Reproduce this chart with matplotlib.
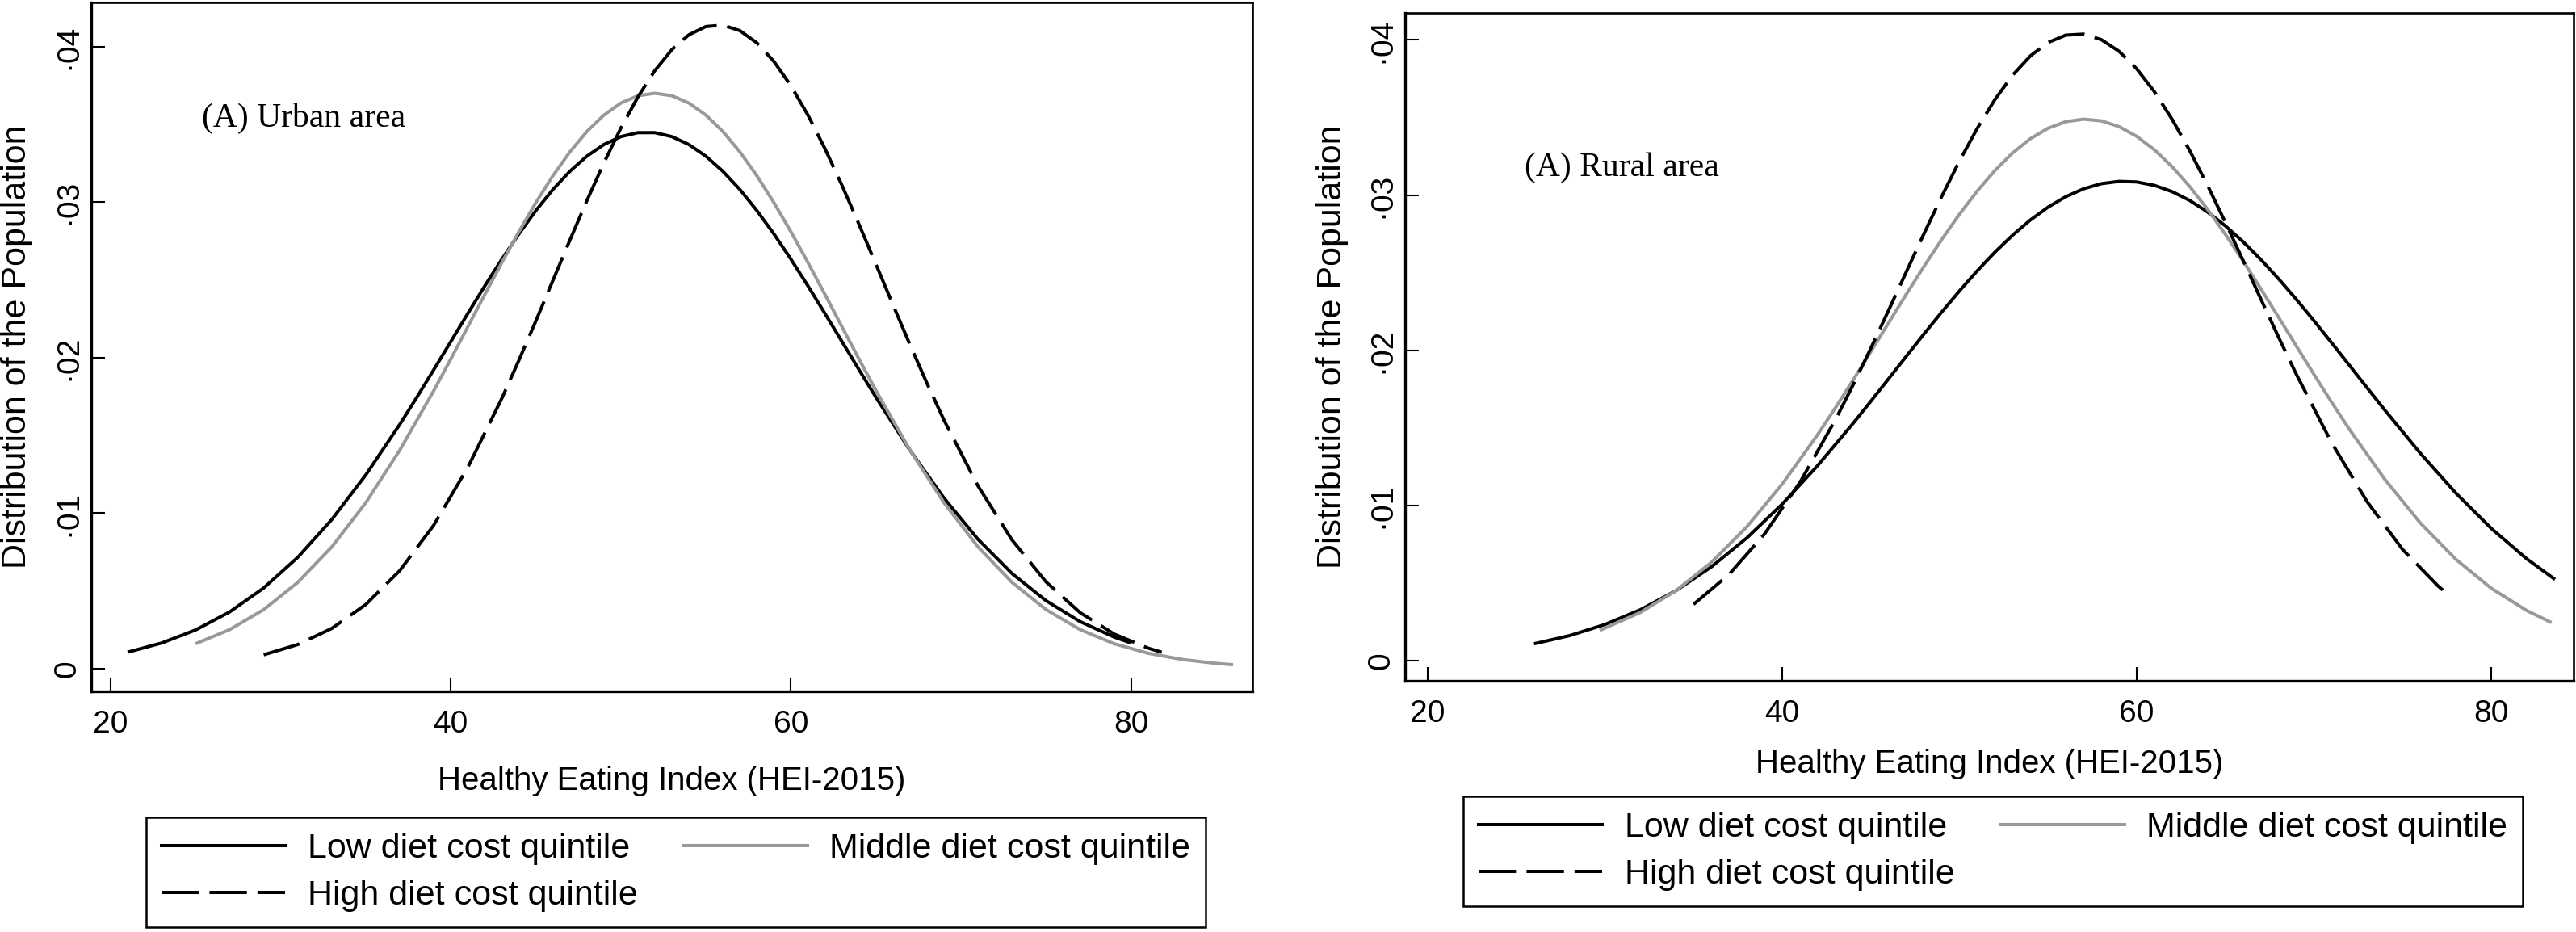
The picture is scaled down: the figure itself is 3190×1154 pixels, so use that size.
import matplotlib
matplotlib.use("Agg")
import matplotlib.pyplot as plt
from matplotlib.lines import Line2D

# ---------------- data ----------------
x_ticks = [20, 40, 60, 80]
x_tick_labels = ["20", "40", "60", "80"]
y_ticks = [0, 0.01, 0.02, 0.03, 0.04]
y_tick_labels = ["0", "·01", "·02", "·03", "·04"]

series_labels = ["Low diet cost quintile", "Middle diet cost quintile", "High diet cost quintile"]
panel_titles = ["(A) Urban area", "(A) Rural area"]
x_title = "Healthy Eating Index (HEI-2015)"
y_title = "Distribution of the Population"

# Urban panel
urban_low_x = [21, 23, 25, 27, 29, 31, 33, 35, 37,
               38, 39, 40, 41, 42, 43, 44, 45, 46, 47, 48, 49, 50, 51, 52, 53, 54, 55, 56, 57,
               58, 59, 60, 61, 62, 63, 64, 65,
               67, 69, 71, 73, 75, 77, 79, 80]
urban_low_y = [0.001062, 0.001652, 0.002493, 0.003652, 0.005190, 0.007160, 0.009588, 0.012458, 0.015710,
               0.017445, 0.019228, 0.021034, 0.022839, 0.024613, 0.026328, 0.027952, 0.029455,
               0.030808, 0.031982, 0.032954, 0.033703, 0.034211, 0.034468, 0.034468, 0.034211,
               0.033703, 0.032954, 0.031982, 0.030808, 0.029455, 0.027952, 0.026328, 0.024613,
               0.022839, 0.021034, 0.019228, 0.017445,
               0.014042, 0.010970, 0.008317, 0.006119, 0.004370, 0.003028, 0.002037, 0.001652]

urban_mid_x = [25, 27, 29, 31, 33, 35, 37, 39,
               40, 41, 42, 43, 44, 45, 46, 47, 48, 49, 50, 51, 52, 53, 54, 55, 56, 57, 58, 59,
               60, 61, 62, 63, 64, 65,
               67, 69, 71, 73, 75, 77, 79, 81, 83, 85, 86]
urban_mid_y = [0.001607, 0.002514, 0.003799, 0.005548, 0.007828, 0.010670, 0.014053, 0.017882,
               0.019913, 0.021984, 0.024063, 0.026112, 0.028094, 0.029966, 0.031691, 0.033227,
               0.034538, 0.035595, 0.036369, 0.036841, 0.037000, 0.036841, 0.036369, 0.035595,
               0.034538, 0.033227, 0.031691, 0.029966, 0.028094, 0.026112, 0.024063, 0.021984,
               0.019913, 0.017882,
               0.014053, 0.010670, 0.007828, 0.005548, 0.003799, 0.002514, 0.001607, 0.000992,
               0.000592, 0.000341, 0.000256]

urban_high_x = [29, 31, 33, 35, 37, 39, 41, 43,
                44, 45, 46, 47, 48, 49, 50, 51, 52, 53, 54, 55, 56, 57, 58, 59, 60, 61, 62, 63,
                64, 65, 66, 67, 68, 69,
                71, 73, 75, 77, 79, 81, 81.8]
urban_high_y = [0.000894, 0.001554, 0.002588, 0.004128, 0.006308, 0.009233, 0.012944, 0.017383,
                0.019822, 0.022360, 0.024954, 0.027551, 0.030093, 0.032517, 0.034760, 0.036761,
                0.038460, 0.039808, 0.040761, 0.041291, 0.041380, 0.041025, 0.040238, 0.039044,
                0.037479, 0.035593, 0.033439, 0.031081, 0.028578, 0.025996, 0.023394, 0.020827,
                0.018344, 0.015983,
                0.011749, 0.008273, 0.005580, 0.003605, 0.002231, 0.001322, 0.001060]

# Rural panel
rural_low_x = [26, 28, 30, 32, 34, 36, 38, 40, 42, 44,
               45, 46, 47, 48, 49, 50, 51, 52, 53, 54, 55, 56, 57, 58, 59, 60, 61, 62, 63, 64,
               65, 66, 67, 68, 69, 70, 71, 72, 73, 74,
               76, 78, 80, 82, 83.6]
rural_low_y = [0.001110, 0.001635, 0.002352, 0.003303, 0.004529, 0.006063, 0.007923, 0.010108,
               0.012590, 0.015310,
               0.016731, 0.018176, 0.019627, 0.021067, 0.022477, 0.023838, 0.025130, 0.026335,
               0.027431, 0.028403, 0.029233, 0.029907, 0.030414, 0.030744, 0.030892, 0.030855,
               0.030633, 0.030232, 0.029657, 0.028919, 0.028030, 0.027007, 0.025865, 0.024623,
               0.023301, 0.021918, 0.020493, 0.019047, 0.017597, 0.016159,
               0.013385, 0.010823, 0.008545, 0.006586, 0.005256]

rural_mid_x = [29.7, 32, 34, 36, 38, 40, 42,
               43, 44, 45, 46, 47, 48, 49, 50, 51, 52, 53, 54, 55, 56, 57, 58, 59, 60, 61, 62,
               63, 64, 65, 66, 67, 68, 69, 70, 71, 72,
               74, 76, 78, 80, 82, 83.4]
rural_mid_y = [0.001972, 0.003131, 0.004528, 0.006351, 0.008639, 0.011397, 0.014583,
               0.016307, 0.018096, 0.019928, 0.021779, 0.023620, 0.025420, 0.027150, 0.028776,
               0.030268, 0.031593, 0.032726, 0.033640, 0.034316, 0.034739, 0.034899, 0.034792,
               0.034421, 0.033794, 0.032926, 0.031836, 0.030547, 0.029087, 0.027485, 0.025773,
               0.023984, 0.022149, 0.020298, 0.018460, 0.016661, 0.014922,
               0.011698, 0.008894, 0.006558, 0.004690, 0.003253, 0.002473]

rural_high_x = [35, 37, 39, 41, 43,
                44, 45, 46, 47, 48, 49, 50, 51, 52, 53, 54, 55, 56, 57, 58, 59, 60, 61, 62, 63,
                64, 65, 66, 67, 68, 69,
                71, 73, 75, 77, 77.4]
rural_high_y = [0.003653, 0.005579, 0.008179, 0.011508, 0.015541,
                0.017785, 0.020145, 0.022585, 0.025063, 0.027528, 0.029927, 0.032204, 0.034300,
                0.036161, 0.037733, 0.038971, 0.039840, 0.040312, 0.040375, 0.040024, 0.039272,
                0.038141, 0.036665, 0.034885, 0.032854, 0.030626, 0.028257, 0.025806, 0.023326,
                0.020870, 0.018482,
                0.014055, 0.010259, 0.007187, 0.004833, 0.004442]

# ---------------- styling ----------------
SANS = ["Liberation Sans", "DejaVu Sans"]
SERIF = ["Liberation Serif", "DejaVu Serif"]
GRAY = "#999999"
LW = 2.9
DASH = (0, (11.5, 3.25))

W, H = 3190, 1154
fig = plt.figure(figsize=(W / 100, H / 100), dpi=100)
fig.patch.set_facecolor("white")


def px_axes(left, top, right, bottom):
    return fig.add_axes([left / W, 1 - bottom / H, (right - left) / W, (bottom - top) / H])


axL = px_axes(113, 3, 1551, 856)
axR = px_axes(1740, 15.7, 3187, 842.7)


def style(ax, xlim, ylim, ylab_x, xlab_y):
    ax.set_xlim(*xlim)
    ax.set_ylim(*ylim)
    ax.set_xticks(x_ticks)
    ax.set_xticklabels(x_tick_labels, fontsize=28, family=SANS)
    ax.set_yticks(y_ticks)
    ax.set_yticklabels(y_tick_labels, fontsize=28, family=SANS, rotation=90, va="center")
    ax.tick_params(axis="both", direction="in", length=12.2, width=1.5, colors="black")
    ax.tick_params(axis="x", pad=16.5)
    ax.tick_params(axis="y", pad=8)
    for s in ["left", "bottom"]:
        ax.spines[s].set_linewidth(2.4)
    for s in ["top", "right"]:
        ax.spines[s].set_linewidth(1.9)
    ax.set_xlabel(x_title, fontsize=29, family=SANS)
    ax.xaxis.set_label_coords(0.5, xlab_y)
    ax.set_ylabel(y_title, fontsize=31, family=SANS)
    ax.yaxis.set_label_coords(ylab_x, 0.5)


def draw(ax, lx, ly, mx, my, hx, hy):
    ax.plot(lx, ly, color="black", lw=LW, solid_capstyle="butt", solid_joinstyle="round")
    ax.plot(mx, my, color=GRAY, lw=LW, solid_capstyle="butt", solid_joinstyle="round")
    ax.plot(hx, hy, color="black", lw=LW, linestyle=DASH, dash_joinstyle="round")


draw(axL, urban_low_x, urban_low_y, urban_mid_x, urban_mid_y, urban_high_x, urban_high_y)
draw(axR, rural_low_x, rural_low_y, rural_mid_x, rural_mid_y, rural_high_x, rural_high_y)

style(axL, (18.86, 87.135), (-0.001455, 0.042842), -0.0501, -0.1079)
style(axR, (18.724, 84.647), (-0.001259, 0.041758), -0.0484, -0.102)

axL.text(25.36, 0.03486, panel_titles[0], fontsize=30, family=SERIF, va="baseline", ha="left")
axR.text(25.46, 0.03124, panel_titles[1], fontsize=30, family=SERIF, va="baseline", ha="left")

# legends
h_low = Line2D([], [], color="black", lw=LW)
h_mid = Line2D([], [], color=GRAY, lw=LW)
h_high = Line2D([], [], color="black", lw=LW, linestyle=DASH)


def add_legend(ax, left_px, top_px):
    leg = ax.legend(handles=[h_low, h_high, h_mid],
                    labels=[series_labels[0], series_labels[2], series_labels[1]],
                    ncol=2, loc="upper left",
                    bbox_to_anchor=(left_px / W, 1 - top_px / H),
                    bbox_transform=fig.transFigure, borderaxespad=0,
                    frameon=True, fancybox=False, shadow=False,
                    prop={"family": SANS, "size": 31},
                    handlelength=3.56, handletextpad=0.64, columnspacing=1.32,
                    borderpad=0.44, labelspacing=0.42)
    fr = leg.get_frame()
    fr.set_edgecolor("black")
    fr.set_linewidth(1.8)
    fr.set_alpha(None)
    return leg


add_legend(axL, 181, 1012)
add_legend(axR, 1812, 986)

fig.savefig("out.png", dpi=100, facecolor="white")
